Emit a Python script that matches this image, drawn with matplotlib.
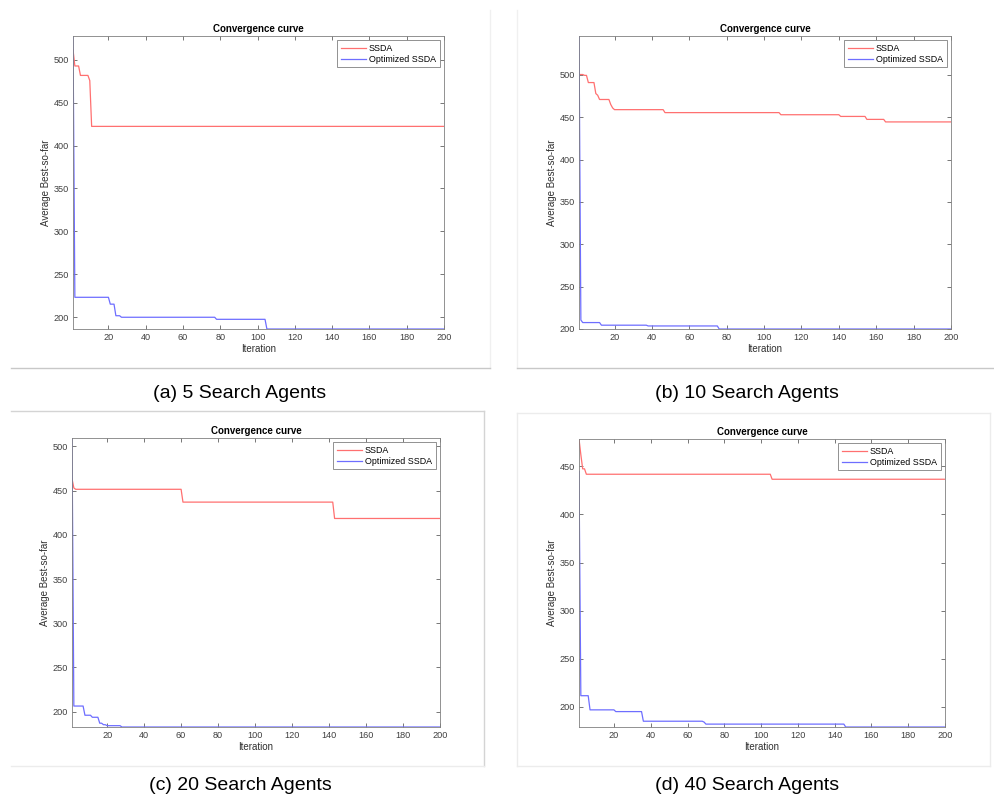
import numpy as np
import matplotlib
matplotlib.use('Agg')
import matplotlib.pyplot as plt
from matplotlib.lines import Line2D

plt.rcParams['font.family'] = ['Liberation Sans', 'DejaVu Sans']

myRed = (255/255.0, 112/255.0, 112/255.0)
myBlue = (110/255.0, 110/255.0, 255/255.0)
axGray = (0.5, 0.5, 0.5)

nIter = 200

# step curves: iteration where a value starts, and the value held from there
a_ssda_start = [1, 2, 5, 10, 11]
a_ssda_val = [512, 493, 482, 476, 422.5]
a_opt_start = [1, 2, 21, 24, 27, 78, 105]
a_opt_val = [528, 223, 215, 201.5, 199.7, 197.3, 186]

b_ssda_start = [1, 4, 6, 10, 11, 12, 18, 19, 20, 47, 109, 141, 155, 165]
b_ssda_val = [500.5, 499.5, 491, 478, 476, 471, 465, 461, 459, 455.5, 453, 451, 447.5, 444.5]
b_opt_start = [1, 2, 3, 13, 38, 76]
b_opt_val = [546, 210.5, 207.5, 204.4, 203.5, 199.9]

c_ssda_start = [1, 2, 3, 61, 143]
c_ssda_val = [463.5, 453, 451.5, 437, 418.5]
c_opt_start = [1, 2, 8, 12, 16, 18, 20, 28]
c_opt_val = [509.5, 206.4, 196, 193.7, 187, 185.3, 184.2, 182.7]

d_ssda_start = [1, 2, 3, 5, 106]
d_ssda_val = [478.3, 462, 447.3, 441.7, 436.5]
d_opt_start = [1, 2, 7, 21, 36, 69, 70, 146]
d_opt_val = [444.5, 211.7, 197, 195.2, 185.2, 184.3, 182.2, 179.2]

captions = ['(a) 5 Search Agents', '(b) 10 Search Agents',
            '(c) 20 Search Agents', '(d) 40 Search Agents']
legendNames = ['SSDA', 'Optimized SSDA']


def hold(starts, vals):
    runs = np.diff(np.append(starts, nIter + 1))
    return np.repeat(vals, runs)


W = 995.0
H = 799.0


def pxAxes(left, top, right, bottom):
    return [left/W, 1 - bottom/H, (right-left)/W, (bottom-top)/H]


fig = plt.figure(figsize=(W/100, H/100), dpi=100)
fig.patch.set_facecolor('white')

# screenshot frames around each panel
def hline(x0, x1, y, c, lw=1.0):
    fig.add_artist(Line2D([x0/W, x1/W], [1-y/H, 1-y/H], color=c, lw=lw))

def vline(x, y0, y1, c, lw=1.0):
    fig.add_artist(Line2D([x/W, x/W], [1-y0/H, 1-y1/H], color=c, lw=lw))

vline(490, 10, 368, '#f0f0f0')
vline(517, 10, 368, '#f0f0f0')
hline(11, 490, 368, '#c8c8c8')
hline(517, 995, 368, '#c8c8c8')
hline(11, 484, 411, '#d4d4d4')
vline(484, 411, 766, '#d4d4d4')
hline(11, 484, 766, '#ececec')
hline(517, 990, 413, '#ececec')
vline(517, 413, 766, '#ececec')
vline(990, 413, 766, '#ececec')
hline(517, 990, 766, '#ececec')

panels = [
    (pxAxes(73, 36, 444, 329), a_ssda_start, a_ssda_val, a_opt_start, a_opt_val, 240, 393),
    (pxAxes(579, 36, 951, 329), b_ssda_start, b_ssda_val, b_opt_start, b_opt_val, 747, 393),
    (pxAxes(72, 438, 440, 727), c_ssda_start, c_ssda_val, c_opt_start, c_opt_val, 240, 785),
    (pxAxes(579, 439, 945, 727), d_ssda_start, d_ssda_val, d_opt_start, d_opt_val, 747, 785),
]

it = np.arange(1, nIter + 1)
for k, (rect, s1, v1, s2, v2, cx, cy) in enumerate(panels):
    ax = fig.add_axes(rect)
    y1 = hold(s1, v1)
    y2 = hold(s2, v2)
    ax.plot(it, y1, color=myRed, lw=0.9, label=legendNames[0])
    ax.plot(it, y2, color=myBlue, lw=0.9, label=legendNames[1])
    lo = min(y1.min(), y2.min())
    hi = max(y1.max(), y2.max())
    ax.set_xlim(1, nIter)
    ax.set_ylim(lo, hi)
    ax.set_xticks(np.arange(20, 201, 20))
    ax.set_yticks(np.arange(200, hi, 50))
    ax.tick_params(direction='in', top=True, right=True, length=3, width=0.5,
                   colors='#404040', labelsize=6.6, pad=3)
    for sp in ax.spines.values():
        sp.set_color(axGray)
        sp.set_linewidth(0.6)
    ax.set_title('Convergence curve', fontsize=7, fontweight='bold', pad=3)
    ax.set_xlabel('Iteration', fontsize=7, color='#303030', labelpad=1)
    ax.set_ylabel('Average Best-so-far', fontsize=7, color='#303030', labelpad=1.5)
    leg = ax.legend(loc='upper right', fontsize=6.4, fancybox=False,
                    edgecolor=axGray, framealpha=1, handlelength=2.8,
                    handletextpad=0.35, borderpad=0.4, labelspacing=0.2,
                    borderaxespad=0.5)
    leg.get_frame().set_linewidth(0.6)
    fig.text(cx/W, 1-cy/H, captions[k], fontsize=14, ha='center', va='center')

plt.savefig('out.png', dpi=100)
